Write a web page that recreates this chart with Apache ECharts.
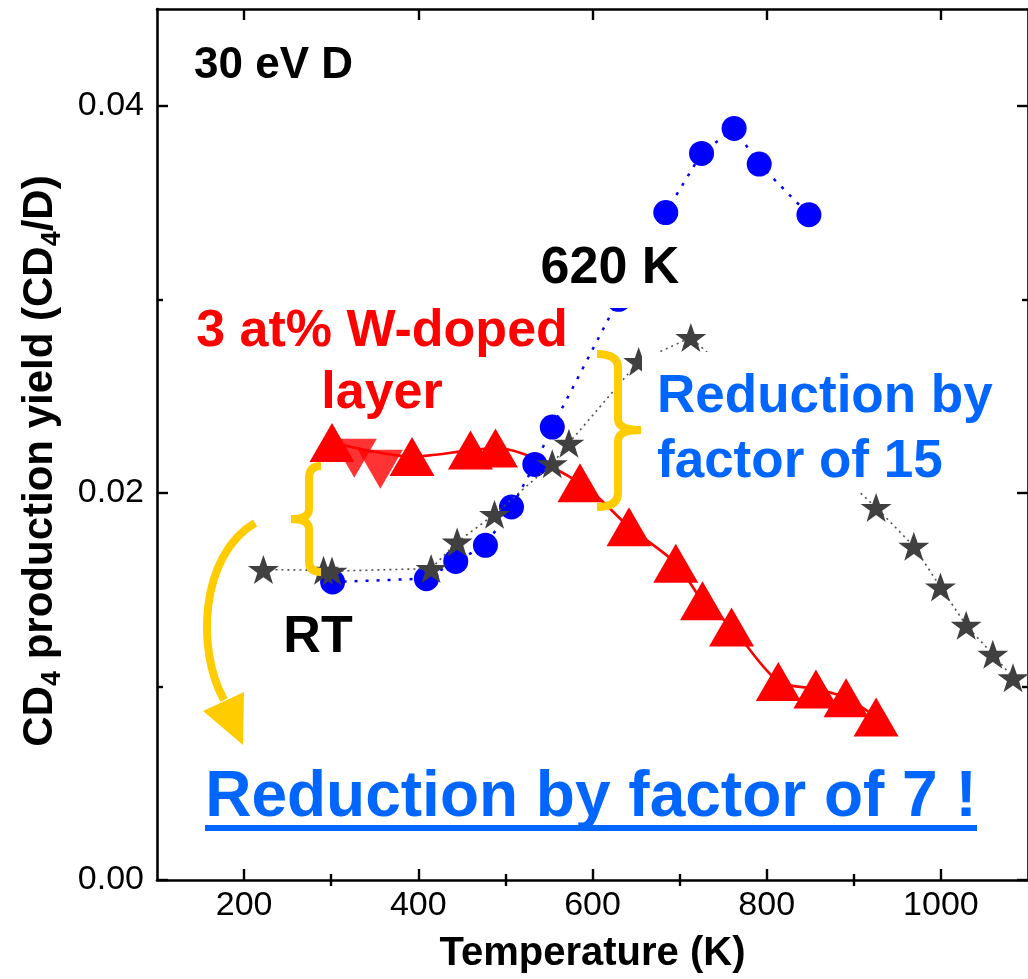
<!DOCTYPE html>
<html><head><meta charset="utf-8">
<script src="https://cdn.jsdelivr.net/npm/echarts@6/dist/echarts.min.js"></script>
<style>html,body{margin:0;padding:0;background:#fff}#c{width:1028px;height:979px}</style>
</head><body><div id="c"></div>
<script>
// ---- data ----
const tempTriUp   = [300.9, 392.8, 459.9, 488.6, 585.6, 641.9, 695.6, 726.3, 759.6, 813.3, 856.5, 891.1, 925.6];
const yieldTriUp  = [0.0226, 0.02188, 0.02221, 0.02232, 0.02052, 0.01825, 0.01636, 0.01443, 0.01307, 0.01026, 0.00987, 0.00941, 0.00842];
const tempTriDown  = [326.5, 356.4];
const yieldTriDown = [0.02179, 0.02122];
const tempCircle  = [301.6, 409.3, 443.0, 477.1, 507.0, 533.8, 553.8, 630.0, 684.1, 725.2, 762.6, 791.4, 848.5];
const yieldCircle = [0.0154, 0.01557, 0.01646, 0.01729, 0.01927, 0.02147, 0.0234, 0.0300, 0.03448, 0.03754, 0.03883, 0.03699, 0.03437];
const tempStar  = [222.2, 291.2, 300.9, 414.7, 444.6, 487.5, 553.8, 572.9, 653.0, 712.9, 925.6, 968.9, 999.5, 1029.0, 1059.6, 1082.8];
const yieldStar = [0.01604, 0.0160, 0.01596, 0.01609, 0.01746, 0.01889, 0.02151, 0.02257, 0.02679, 0.02803, 0.01925, 0.01724, 0.01514, 0.01316, 0.01166, 0.01045];
const xMajorTicks = [200, 400, 600, 800, 1000];
const xMinorTicks = [300, 500, 700, 900];
const yMajorTicks = [0, 0.02, 0.04];
const yMinorTicks = [0.01, 0.03];

const FONT = "'Liberation Sans', Arial, sans-serif";
const pair = (xs, ys) => xs.map((x, i) => [x, ys[i]]);
const STAR = 'path://M50,0 L61.8,34.5 L97.6,34.5 L68.8,55.9 L79.4,90.5 L50,69.1 L20.6,90.5 L31.2,55.9 L2.4,34.5 L38.2,34.5 Z';

const axisLine = {show: true, onZero: false, lineStyle: {color: '#000', width: 2.6}};
function xAx(pos, ticks, len, labels) {
  return {
    type: 'value', position: pos, min: 100, max: 1100,
    axisLine: labels === null ? {show: false} : axisLine,
    splitLine: {show: false},
    axisTick: {show: true, inside: true, length: len, customValues: ticks, lineStyle: {color: '#000', width: 2.4}},
    axisLabel: labels ? {show: true, customValues: ticks, fontSize: 34, fontFamily: FONT, color: '#000', margin: 9,
      formatter: v => String(v)} : {show: false}
  };
}
function yAx(pos, ticks, len, labels) {
  return {
    type: 'value', position: pos, min: 0, max: 0.045,
    axisLine: labels === null ? {show: false} : axisLine,
    splitLine: {show: false},
    axisTick: {show: true, inside: true, length: len, customValues: ticks, lineStyle: {color: '#000', width: 2.4}},
    axisLabel: labels ? {show: true, customValues: ticks, fontSize: 34, fontFamily: FONT, color: '#000', margin: 13,
      formatter: v => v.toFixed(2)} : {show: false}
  };
}

const xAxes = [
  Object.assign(xAx('bottom', xMajorTicks, 11, true), {
    name: 'Temperature (K)', nameLocation: 'middle', nameGap: 54,
    nameTextStyle: {fontSize: 40, fontWeight: 'bold', fontFamily: FONT, color: '#000'}
  }),
  xAx('bottom', xMinorTicks, 6, null),
  xAx('top', xMajorTicks, 11, false),
  xAx('top', xMinorTicks, 6, null)
];
const yAxes = [
  yAx('left', yMajorTicks, 11, true),
  yAx('left', yMinorTicks, 6, null),
  yAx('right', yMajorTicks, 11, false),
  yAx('right', yMinorTicks, 6, null)
];

const YEL = '#ffcc00', BLUE_T = '#0066ff';
function bz(x1, y1, cx, cy, x2, y2) {
  return {type: 'bezierCurve', z: 60, shape: {x1, y1, cpx1: cx, cpy1: cy, x2, y2},
    style: {stroke: YEL, lineWidth: 8, fill: null}};
}
function ln(x1, y1, x2, y2, color, w) {
  return {type: 'line', z: 60, shape: {x1, y1, x2, y2}, style: {stroke: color || YEL, lineWidth: w || 8}};
}
function txt(text, x, y, size, color, align, valign, extra) {
  return {type: 'text', z: 70, style: Object.assign({
    text, x, y, fill: color, fontSize: size, fontWeight: 'bold', fontFamily: FONT,
    textAlign: align, textVerticalAlign: valign, align: align, verticalAlign: valign
  }, extra || {})};
}

const graphics = [
  // white box behind the right-hand note
  {type: 'rect', z: 50, shape: {x: 642, y: 352, width: 364, height: 139}, style: {fill: '#fff'}},
  // left brace
  bz(321, 466, 309, 466, 309, 478), ln(309, 478, 309, 509), bz(309, 509, 309, 519, 291, 519),
  bz(291, 519, 309, 519, 309, 529), ln(309, 529, 309, 561), bz(309, 561, 309, 572, 321, 572),
  // right brace
  bz(597, 354, 618, 354, 618, 368), ln(618, 368, 618, 419), bz(618, 419, 618, 430, 641, 430),
  bz(641, 430, 618, 430, 618, 441), ln(618, 441, 618, 493), bz(618, 493, 618, 507, 597, 507),
  // curved arrow
  {type: 'bezierCurve', z: 60, shape: {x1: 255, y1: 523, cpx1: 200, cpy1: 555, cpx2: 196, cpy2: 650, x2: 224, y2: 700},
    style: {stroke: YEL, lineWidth: 8, fill: null}},
  {type: 'polygon', z: 60, shape: {points: [[244, 692], [203, 711], [243, 745]]}, style: {fill: YEL}},
  // y-axis title (rotated)
  {type: 'text', z: 70, x: 40, y: 461, rotation: Math.PI / 2, style: {
    text: '{b|CD}{s|4}{b| production yield (CD}{s|4}{b|/D)}',
    align: 'center', verticalAlign: 'middle', textAlign: 'center', textVerticalAlign: 'middle',
    rich: {
      b: {fontSize: 42, fontWeight: 'bold', fontFamily: FONT, fill: '#000', color: '#000', lineHeight: 52},
      s: {fontSize: 27, fontWeight: 'bold', fontFamily: FONT, fill: '#000', color: '#000', lineHeight: 22, verticalAlign: 'bottom'}
    }}},
  // texts
  txt('30 eV D', 194, 66, 44, '#000', 'left', 'middle'),
  txt('620 K', 610, 269, 52, '#000', 'center', 'middle', {backgroundColor: '#fff', padding: [6, 4, 14, 4], lineHeight: 58}),
  txt('3 at% W-doped\nlayer', 382, 301, 52, '#ff0000', 'center', 'top', {lineHeight: 62}),
  txt('RT', 318, 638, 52, '#000', 'center', 'middle'),
  txt('Reduction by\nfactor of 15', 657, 365, 53, BLUE_T, 'left', 'top', {lineHeight: 65}),
  txt('Reduction by factor of 7 !', 591, 798, 64, BLUE_T, 'center', 'middle'),
  ln(205, 828, 977, 828, BLUE_T, 6)
];

const chart = echarts.init(document.getElementById('c'), null, {renderer: 'canvas'});
chart.setOption({
  animation: false,
  backgroundColor: '#fff',
  grid: {left: 157, right: -1, top: 9, bottom: 99, containLabel: false},
  xAxis: xAxes,
  yAxis: yAxes,
  series: [
    {type: 'scatter', name: 'W-doped down', xAxisIndex: 0, yAxisIndex: 0, z: 1, data: pair(tempTriDown, yieldTriDown),
      symbol: 'triangle', symbolRotate: 180, symbolSize: [45, 39], itemStyle: {color: '#ff0000'}},
    {type: 'line', name: 'W-doped', xAxisIndex: 0, yAxisIndex: 0, z: 2, data: pair(tempTriUp, yieldTriUp),
      smooth: 0.3, symbol: 'triangle', symbolSize: [45, 39], showAllSymbol: true,
      itemStyle: {color: '#ff0000'}, lineStyle: {color: '#ff0000', width: 2.6}},
    {type: 'line', name: 'circles', xAxisIndex: 0, yAxisIndex: 0, z: 3, data: pair(tempCircle, yieldCircle),
      symbol: 'circle', symbolSize: 25, showAllSymbol: true,
      itemStyle: {color: '#0000ff'}, lineStyle: {color: '#0000ff', width: 2.5, type: [3, 8]}},
    {type: 'line', name: 'stars', xAxisIndex: 0, yAxisIndex: 0, z: 4, data: pair(tempStar, yieldStar),
      symbol: STAR, symbolSize: [31, 29], showAllSymbol: true,
      itemStyle: {color: '#404040'}, lineStyle: {color: '#505050', width: 1.6, type: [2, 4]}}
  ],
  graphic: {elements: graphics}
});
</script></body></html>
